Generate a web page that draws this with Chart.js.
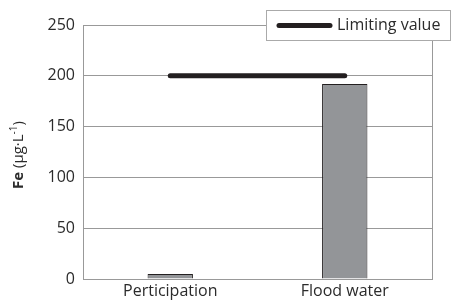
<!DOCTYPE html>
<html>
<head>
<meta charset="utf-8">
<script src="https://cdn.jsdelivr.net/npm/chart.js@4"></script>
<style>
  html, body { margin: 0; padding: 0; background: #fff; }
  #wrap { width: 452px; height: 301px; position: relative; }
</style>
</head>
<body>
<div id="wrap"><canvas id="feChart"></canvas></div>
<script>
const categories = ['Perticipation', 'Flood water'];
const feValues = [5, 192];
const limitValues = [200, 200];
const yTicks = [0, 50, 100, 150, 200, 250];

const FONT = '"Open Sans", Lato, sans-serif';
const TEXT = '#2b2b2b';

// y title with bold "Fe" and superscript, plus the overlaid legend box and plot frame
const extras = {
    id: 'extras',
    afterDraw(chart) {
        const ctx = chart.ctx;
        const a = chart.chartArea;
        ctx.save();
        ctx.strokeStyle = '#999';
        ctx.lineWidth = 1;
        ctx.strokeRect(Math.round(a.left) + 0.5, Math.round(a.top) + 0.5,
            Math.round(a.right - a.left), Math.round(a.bottom - a.top));

        // legend box
        ctx.fillStyle = '#fff';
        ctx.fillRect(266, 10, 185, 30);
        ctx.strokeStyle = '#aaa';
        ctx.strokeRect(266.5, 10.5, 184, 30);
        ctx.strokeStyle = '#231f20';
        ctx.lineWidth = 5;
        ctx.lineCap = 'round';
        ctx.beginPath();
        ctx.moveTo(279, 25.5);
        ctx.lineTo(330, 25.5);
        ctx.stroke();
        ctx.fillStyle = TEXT;
        ctx.font = '16px ' + FONT;
        ctx.textBaseline = 'middle';
        ctx.fillText('Limiting value', 337, 25);

        // y axis title
        ctx.translate(19, 155);
        ctx.rotate(-Math.PI / 2);
        const parts = [
            { t: 'Fe', f: 'bold 15px ' + FONT, dy: 0 },
            { t: ' (µg·L', f: '15px ' + FONT, dy: 0 },
            { t: '-1', f: '10px ' + FONT, dy: -5 },
            { t: ')', f: '15px ' + FONT, dy: 0 }
        ];
        let total = 0;
        parts.forEach(p => { ctx.font = p.f; total += ctx.measureText(p.t).width; });
        let x = -total / 2;
        ctx.textBaseline = 'middle';
        parts.forEach(p => {
            ctx.font = p.f;
            ctx.fillText(p.t, x, p.dy);
            x += ctx.measureText(p.t).width;
        });
        ctx.restore();
    }
};

const ctx = document.getElementById('feChart').getContext('2d');
const feChart = new Chart(ctx, {
    data: {
        labels: categories,
        datasets: [{
            type: 'line',
            label: 'Limiting value',
            data: limitValues,
            borderColor: '#231f20',
            borderWidth: 5,
            borderCapStyle: 'round',
            pointRadius: 0,
            order: 0
        }, {
            type: 'bar',
            label: 'Fe',
            data: feValues,
            backgroundColor: '#939598',
            borderColor: '#231f20',
            borderWidth: 1,
            categoryPercentage: 1,
            barPercentage: 0.26,
            order: 1
        }]
    },
    options: {
        responsive: true,
        maintainAspectRatio: false,
        animation: false,
        layout: { padding: { top: 25, right: 20, left: 0, bottom: 0 } },
        plugins: {
            legend: { display: false },
            tooltip: { enabled: false }
        },
        scales: {
            x: {
                grid: { display: false, drawTicks: false },
                border: { color: '#999' },
                ticks: { color: TEXT, font: { family: FONT, size: 16 }, padding: 3 },
                afterFit: s => { s.height = 22; }
            },
            y: {
                min: 0,
                max: 250,
                afterBuildTicks: s => { s.ticks = yTicks.map(v => ({ value: v })); },
                grid: { color: '#999', drawTicks: false },
                border: { color: '#999' },
                ticks: { color: TEXT, font: { family: FONT, size: 16 }, padding: 8 },
                afterFit: s => { s.width = 83; }
            }
        }
    },
    plugins: [extras]
});
</script>
</body>
</html>
